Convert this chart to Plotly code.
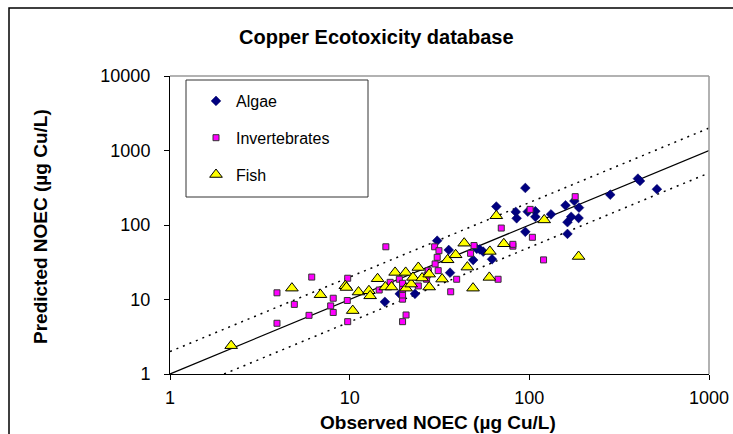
import plotly.graph_objects as go

# ---- data (observed, predicted) in µg Cu/L ----
algae_obs = [95, 65.5, 84, 85, 98, 108, 108, 132, 159, 178, 189, 171, 188, 163, 163, 95,
             282, 402, 413, 513, 30.7, 35.6, 48.7, 55.4, 53, 62, 36.2, 23.1, 15.7, 19, 51]
algae_pred = [314, 177, 150, 123, 151, 153, 129, 139, 184, 210, 171, 129, 124, 109, 76, 81,
              255, 419, 390, 302, 61.5, 46.2, 33.9, 43.8, 47, 34.7, 22.9, 11.9, 9.3, 11.9, 48]

inv_obs = [3.94, 3.94, 4.92, 6.15, 5.94, 7.84, 8.1, 8.1, 9.75, 9.7, 9.75, 15.9, 14.6, 16.8,
           19.7, 20.6, 19.7, 19.7, 19.7, 18.9, 19.7, 24.1, 26.8, 27, 29.7, 31.4, 30.7, 29.9,
           31.1, 27.4, 39.4, 36.5, 49.2, 47.1, 67, 69.8, 81, 81, 101, 104, 120, 180]
inv_pred = [12.3, 4.8, 8.6, 20, 6.13, 8.2, 10.4, 6.7, 19.3, 9.7, 5.04, 51, 13.4, 17,
            10.1, 6.2, 5.04, 11.5, 13.7, 18.7, 16.5, 15.2, 18.7, 21.3, 51, 45.2, 36.8, 30,
            24.4, 24.4, 18.7, 12.7, 53, 41.7, 18.7, 91, 52, 55, 162, 68.4, 34, 240]

fish_obs = [2.19, 4.77, 6.88, 9.46, 9.6, 10.4, 11.2, 12.8, 13, 14.3, 15.8, 17.1, 17.9, 20.5,
            20.6, 22, 22.5, 24.1, 25.3, 27.7, 27.7, 32.7, 35.1, 38.9, 43.4, 45.2, 48.6,
            60.3, 59.9, 65.5, 72.1, 121, 188]
fish_pred = [2.4, 14.2, 11.6, 15.3, 14.5, 7.1, 12.6, 13.1, 11.2, 19, 14.7, 14.7, 23.1, 23.1,
             14.2, 16.1, 19.8, 26.9, 19.4, 21.9, 14.7, 18.8, 34.1, 39.8, 57, 27.2, 14.2,
             44.2, 19.8, 133, 56, 117, 37.8]

line_x = [1, 1000]
ratio_upper = 2
ratio_lower = 0.5
tick_vals_x = [1, 10, 100, 1000]
tick_vals_y = [1, 10, 100, 1000, 10000]

FONT = "Liberation Sans, Arial, sans-serif"

fig = go.Figure()

# 1:1 and factor-2 lines
fig.add_trace(go.Scatter(x=line_x, y=line_x, mode="lines",
                         line=dict(color="black", width=1.3), showlegend=False, hoverinfo="skip"))
fig.add_trace(go.Scatter(x=line_x, y=[v * ratio_upper for v in line_x], mode="lines",
                         line=dict(color="black", width=1.5, dash="2px,5px"),
                         showlegend=False, hoverinfo="skip"))
fig.add_trace(go.Scatter(x=[1 / ratio_lower, 1000], y=[1, 1000 * ratio_lower], mode="lines",
                         line=dict(color="black", width=1.5, dash="2px,5px"),
                         showlegend=False, hoverinfo="skip"))

fig.add_trace(go.Scatter(x=algae_obs, y=algae_pred, mode="markers", name="Algae",
                         legendgroup="a",
                         marker=dict(symbol="diamond", size=7.5, color="#000080",
                                     line=dict(color="#000060", width=0.5))))
fig.add_trace(go.Scatter(x=inv_obs, y=inv_pred, mode="markers", name="Invertebrates",
                         legendgroup="b",
                         marker=dict(symbol="square", size=6, color="#FF00FF",
                                     line=dict(color="#333333", width=1))))
fig.add_trace(go.Scatter(x=fish_obs, y=fish_pred, mode="markers", name="Fish",
                         legendgroup="c",
                         marker=dict(symbol="triangle-up", size=11, color="#FFFF00",
                                     line=dict(color="black", width=1))))

L, R, T, B = 170, 24, 76, 60
W, H = 733, 434
pw, ph = W - L - R, H - T - B

def px_x(p):
    return (p - L) / pw

def px_y(p):
    return (H - B - p) / ph

shapes = [
    # outer chart border
    dict(type="rect", xref="paper", yref="paper", x0=px_x(9), x1=px_x(760), y0=px_y(460), y1=px_y(8),
         line=dict(color="black", width=1.5), layer="below"),
    # plot area top/right gray border
    dict(type="line", xref="paper", yref="paper", x0=0, x1=1, y0=1, y1=1,
         line=dict(color="#999999", width=1.5)),
    dict(type="line", xref="paper", yref="paper", x0=1, x1=1, y0=0, y1=1,
         line=dict(color="#999999", width=1.5)),
    # legend box
    dict(type="rect", xref="paper", yref="paper", x0=px_x(186), x1=px_x(368), y0=px_y(197), y1=px_y(80),
         line=dict(color="#333333", width=1), fillcolor="white", layer="below"),
]

annotations = [
    dict(text="<b>Copper Ecotoxicity database</b>", xref="paper", yref="paper",
         x=px_x(376), y=px_y(37), showarrow=False, font=dict(size=20, family=FONT, color="black"),
         xanchor="center", yanchor="middle"),
    dict(text="<b>Observed NOEC (µg Cu/L)</b>", xref="paper", yref="paper",
         x=px_x(438), y=px_y(422), showarrow=False, font=dict(size=19, family=FONT, color="black"),
         xanchor="center", yanchor="middle"),
    dict(text="<b>Predicted NOEC (µg Cu/L)</b>", xref="paper", yref="paper",
         x=px_x(40), y=px_y(227), showarrow=False, textangle=-90,
         font=dict(size=19, family=FONT, color="black"),
         xanchor="center", yanchor="middle"),
]

fig.update_layout(
    width=W, height=H,
    margin=dict(l=L, r=R, t=T, b=B, pad=0, autoexpand=False),
    paper_bgcolor="white", plot_bgcolor="white",
    font=dict(family=FONT, color="black", size=16),
    shapes=shapes, annotations=annotations,
    showlegend=True,
    legend=dict(x=px_x(196), y=px_y(84), xanchor="left", yanchor="top",
                bgcolor="rgba(0,0,0,0)", borderwidth=0,
                font=dict(size=16, family=FONT), tracegroupgap=13, itemwidth=30),
    xaxis=dict(type="log", range=[0, 3], tickvals=tick_vals_x, ticktext=[str(v) for v in tick_vals_x],
               showgrid=False, zeroline=False, showline=True, linecolor="black", linewidth=1,
               ticks="outside", ticklen=5, tickcolor="black", ticklabelstandoff=2,
               automargin=False, tickfont=dict(size=18, family=FONT)),
    yaxis=dict(type="log", range=[0, 4], tickvals=tick_vals_y, ticktext=[str(v) for v in tick_vals_y],
               showgrid=False, zeroline=False, showline=True, linecolor="black", linewidth=1,
               ticks="outside", ticklen=5, tickcolor="black", ticklabelstandoff=10,
               automargin=False, tickfont=dict(size=18, family=FONT)),
)

fig.write_html("out.html")
